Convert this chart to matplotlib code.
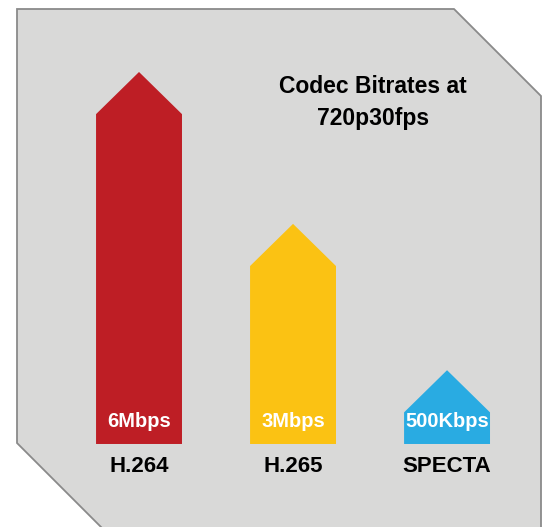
import matplotlib.pyplot as plt
from matplotlib.patches import Polygon

codecs = ["H.264", "H.265", "SPECTA"]
bitrate_labels = ["6Mbps", "3Mbps", "500Kbps"]
# visual arrow heights as drawn in the picture (not to scale with bitrate)
arrow_heights = [6.0, 3.55, 1.19]
colors = ["#be1e25", "#fbc213", "#29abe2"]
title = "Codec Bitrates at\n720p30fps"

plt.rcParams['font.family'] = ['Liberation Sans', 'DejaVu Sans']

fig = plt.figure(figsize=(5.47, 5.27), dpi=100)
ax = fig.add_axes([0, 0, 1, 1])
ax.set_xlim(-0.9026, 2.649)
ax.set_ylim(-1.339, 7.161)
ax.axis("off")

# clipped-corner grey panel (pixel outline of the card)
W, H = 547, 527
panel_px = [(17, 9), (454, 9), (541, 96), (541, 580), (154, 580), (17, 443)]
panel = Polygon([(x / W, 1 - y / H) for x, y in panel_px], closed=True,
                transform=ax.transAxes, facecolor="#d9d9d8", edgecolor="#8a8a8a",
                linewidth=1.3, clip_on=False, zorder=0)
ax.add_patch(panel)

width = 0.558
head = 0.68
for i, (h, c) in enumerate(zip(arrow_heights, colors)):
    l, r = i - width / 2, i + width / 2
    pts = [(l, 0), (r, 0), (r, h - head), (i, h), (l, h - head)]
    ax.add_patch(Polygon(pts, closed=True, facecolor=c, edgecolor="none", zorder=2))
    ax.text(i, 0.37, bitrate_labels[i], color="white", fontsize=14.5, fontweight="bold",
            ha="center", va="center", zorder=3)
    ax.text(i, -0.36, codecs[i], color="black", fontsize=16, fontweight="bold",
            ha="center", va="center", zorder=3)

ax.text(1.52, 5.5, title, color="black", fontsize=16.5, fontweight="bold",
        ha="center", va="center", linespacing=1.5, zorder=3)

plt.savefig("out.png", dpi=100)
plt.close()
